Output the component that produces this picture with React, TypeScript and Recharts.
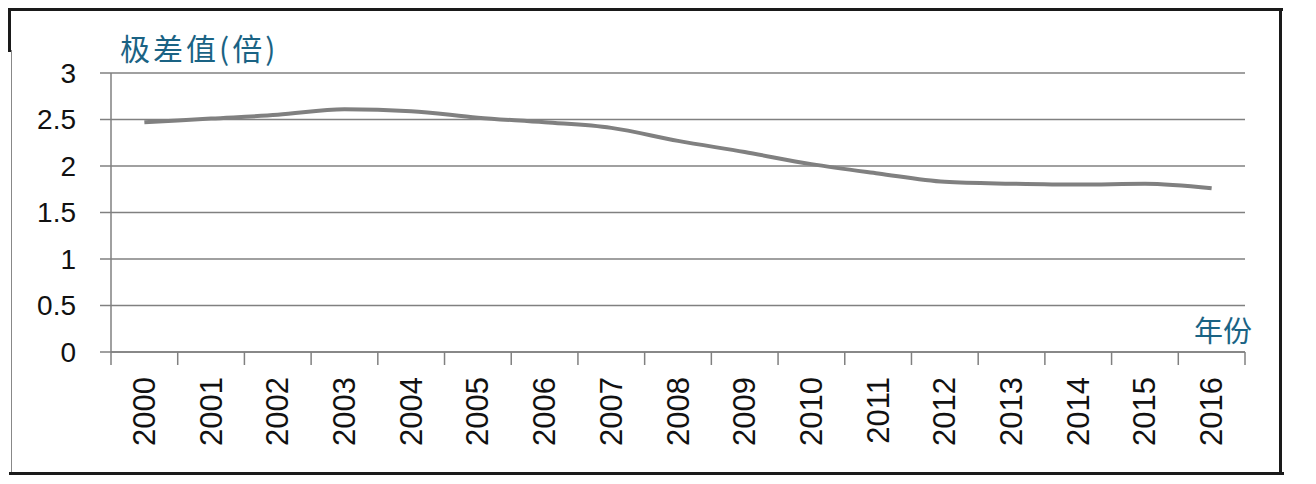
import { CartesianGrid, Line, LineChart, XAxis, YAxis } from "recharts"

const years = ['2000', '2001', '2002', '2003', '2004', '2005', '2006', '2007', '2008', '2009', '2010', '2011', '2012', '2013', '2014', '2015', '2016']
const gapValues = [2.47, 2.51, 2.55, 2.61, 2.59, 2.52, 2.47, 2.41, 2.27, 2.15, 2.02, 1.92, 1.83, 1.81, 1.8, 1.81, 1.76]
const yTicks = [0, 0.5, 1, 1.5, 2, 2.5, 3]

const data = years.map((year, i) => ({ year, value: gapValues[i] }))

const axisGray = "#808080"
const titleBlue = "#1a6384"

const YearTick = (props: any) => {
  const { x, y, payload, index } = props
  const half = payload?.offset ?? 0
  const last = index === years.length - 1
  return (
    <g>
      <line x1={x - half} x2={x - half} y1={y} y2={y + 13} stroke={axisGray} strokeWidth={1.5} />
      {last && <line x1={x + half} x2={x + half} y1={y} y2={y + 13} stroke={axisGray} strokeWidth={1.5} />}
      <text
        x={x}
        y={y + 25}
        transform={`rotate(-90, ${x}, ${y + 25})`}
        textAnchor="end"
        dominantBaseline="central"
        fontSize={31}
        fill="#111"
        fontFamily="Liberation Sans"
      >
        {payload.value}
      </text>
    </g>
  )
}

const App = () => {
  return (
    <div style={{ position: "relative", left: -8, top: -8, width: 1300, height: 480, fontFamily: "Liberation Sans" }}>
      {/* frame */}
      <div style={{ position: "absolute", left: 8, top: 8, width: 1275, height: 3, background: "#1a1a1a" }} />
      <div style={{ position: "absolute", left: 8, top: 8, width: 3, height: 44, background: "#1a1a1a" }} />
      <div style={{ position: "absolute", left: 11, top: 50, width: 1, height: 424, background: "#888" }} />
      <div style={{ position: "absolute", left: 1279, top: 8, width: 3, height: 465, background: "#1a1a1a" }} />
      <div style={{ position: "absolute", left: 9, top: 472, width: 1275, height: 3, background: "#1a1a1a" }} />

      <LineChart width={1300} height={480} data={data} margin={{ top: 73, right: 55, bottom: 28, left: 11 }}>
        <CartesianGrid vertical={false} stroke={axisGray} strokeWidth={1.5} />
        <XAxis
          dataKey="year"
          scale="band"
          interval={0}
          height={100}
          tickSize={0}
          tickMargin={0}
          tickLine={false}
          axisLine={{ stroke: axisGray, strokeWidth: 1.5 }}
          tick={<YearTick />}
        />
        <YAxis
          width={100}
          domain={[0, 3]}
          ticks={yTicks}
          tickSize={11}
          tickMargin={24}
          axisLine={{ stroke: axisGray, strokeWidth: 1.5 }}
          tickLine={{ stroke: axisGray, strokeWidth: 1.5 }}
          tick={{ fontSize: 28, fill: "#111", fontFamily: "Liberation Sans" }}
        />
        <Line type="monotone" dataKey="value" stroke={axisGray} strokeWidth={4} dot={false} isAnimationActive={false} />
      </LineChart>

      <div style={{ position: "absolute", left: 120, top: 27, fontSize: 30, color: titleBlue, fontFamily: "Noto Sans CJK SC", letterSpacing: 3, lineHeight: "40px" }}>
        极差值(倍)
      </div>
      <div style={{ position: "absolute", left: 1194, top: 309, fontSize: 29, color: titleBlue, fontFamily: "Noto Sans CJK SC", lineHeight: "40px" }}>
        年份
      </div>
    </div>
  )
}

export default App
